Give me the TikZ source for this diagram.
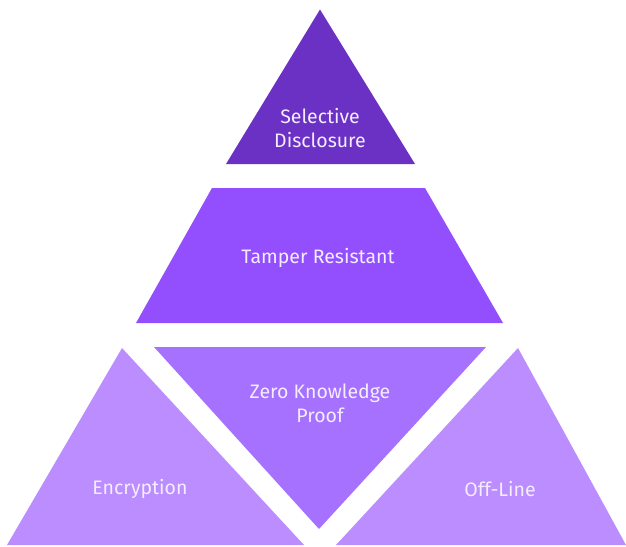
\documentclass[tikz,border=0pt]{standalone}
\usepackage{fontspec}
\setmainfont{Fira Sans}[Scale=1]
\begin{document}
\begin{tikzpicture}[x=1pt,y=-1pt,
  lbl/.style={text=lbltext,font=\fontsize{19.5}{24}\selectfont,align=center,inner sep=0pt}]
\definecolor{topc}{HTML}{6B31C4}
\definecolor{midc}{HTML}{934FFD}
\definecolor{zkc}{HTML}{A571FE}
\definecolor{sidec}{HTML}{BB8DFF}
\definecolor{lbltext}{HTML}{F4EDFF}
\useasboundingbox (0,0) rectangle (626,546);
% top tier
\fill[topc] (320,9.5) -- (415,164) -- (226,164) -- cycle;
% middle tier
\fill[midc] (212,188) -- (425,188) -- (503,323) -- (136,323) -- cycle;
% bottom tier
\fill[sidec] (122,348) -- (304,545) -- (7,545) -- cycle;
\fill[zkc] (154,347) -- (486,347) -- (319,529) -- cycle;
\fill[sidec] (518,348) -- (626,545) -- (336,545) -- cycle;
% labels
\node[lbl] (sd) at (320,128) {Selective\\Disclosure};
\node[lbl] (tr) at (318,258) {Tamper Resistant};
\node[lbl] (zk) at (320,403) {Zero Knowledge\\Proof};
\node[lbl] (en) at (140,489) {Encryption};
\node[lbl] (ol) at (500,489) {Off-Line};
\end{tikzpicture}
\end{document}
